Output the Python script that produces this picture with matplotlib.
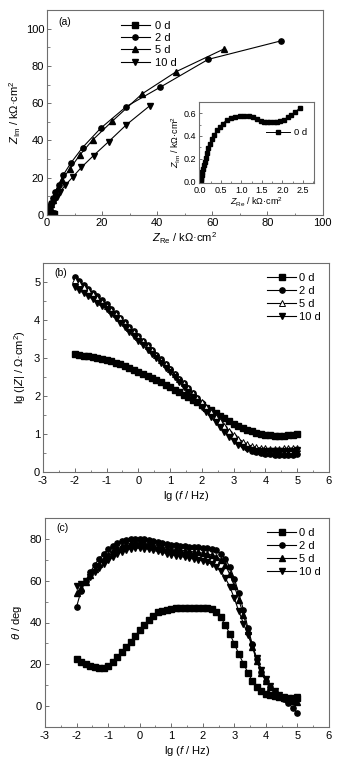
import matplotlib
matplotlib.use("Agg")
import matplotlib.pyplot as plt
from matplotlib.ticker import MultipleLocator, FormatStrFormatter

plt.rcParams['font.family'] = ['Liberation Sans', 'DejaVu Sans']
plt.rcParams['mathtext.fontset'] = 'custom'
plt.rcParams['mathtext.rm'] = 'Liberation Sans'
plt.rcParams['mathtext.it'] = 'Liberation Sans:italic'
plt.rcParams['mathtext.bf'] = 'Liberation Sans:bold'
plt.rcParams['axes.unicode_minus'] = False

labels = ['0 d', '2 d', '5 d', '10 d']

# ---------------- (a) Nyquist data (kOhm cm2) ----------------
zre_0d = [0.01, 0.02, 0.03, 0.04, 0.05, 0.07, 0.09, 0.11, 0.14, 0.17, 0.20, 0.24, 0.29, 0.34,
          0.40, 0.47, 0.55, 0.64, 0.74, 0.85, 0.96, 1.07, 1.18, 1.29, 1.39, 1.47, 1.55, 1.63,
          1.71, 1.79, 1.87, 1.95, 2.04, 2.13, 2.22, 2.31, 2.43]
zim_0d = [0.00, 0.02, 0.04, 0.06, 0.08, 0.11, 0.14, 0.17, 0.21, 0.25, 0.29, 0.33, 0.37, 0.41,
          0.45, 0.48, 0.51, 0.54, 0.56, 0.57, 0.58, 0.58, 0.575, 0.565, 0.55, 0.535, 0.52, 0.52,
          0.52, 0.52, 0.525, 0.53, 0.545, 0.565, 0.585, 0.61, 0.65]

zre_2d = [0.01, 0.015, 0.02, 0.025, 0.035, 0.05, 0.07, 0.10, 0.14, 0.19, 0.27, 0.38, 0.53, 0.75,
          1.05, 1.5, 2.1, 3.0, 4.2, 5.9, 8.7, 12.9, 19.5, 28.8, 41.0, 58.5, 85.1]
zim_2d = [0.03, 0.05, 0.07, 0.11, 0.16, 0.23, 0.33, 0.46, 0.64, 0.90, 1.25, 1.75, 2.45, 3.4,
          4.7, 6.5, 9.0, 12.4, 16.1, 21.5, 28.0, 36.2, 46.6, 58.2, 68.5, 83.5, 93.5]

zre_5d = [0.008, 0.012, 0.018, 0.025, 0.035, 0.05, 0.07, 0.10, 0.14, 0.19, 0.27, 0.37, 0.52,
          0.72, 1.0, 1.4, 2.0, 2.8, 3.9, 5.4, 8.2, 11.8, 16.6, 23.6, 34.5, 47.0, 64.1]
zim_5d = [0.03, 0.05, 0.08, 0.12, 0.17, 0.24, 0.34, 0.47, 0.65, 0.89, 1.22, 1.68, 2.3,
          3.15, 4.3, 5.8, 7.9, 10.6, 14.3, 18.8, 24.5, 32.0, 40.3, 50.2, 65.0, 77.0, 89.0]

zre_10d = [0.012, 0.018, 0.025, 0.035, 0.05, 0.07, 0.10, 0.14, 0.19, 0.26, 0.36, 0.50, 0.68,
           0.95, 1.3, 1.8, 2.5, 3.5, 4.8, 6.7, 9.3, 12.5, 16.9, 22.4, 28.8, 37.3]
zim_10d = [0.04, 0.07, 0.10, 0.15, 0.21, 0.29, 0.40, 0.55, 0.75, 1.02, 1.38, 1.85, 2.5,
           3.3, 4.4, 5.8, 7.6, 9.8, 12.6, 16.1, 20.3, 25.6, 31.9, 39.4, 48.4, 58.6]

# ---------------- (b), (c) Bode data ----------------
lg_f = [-2.00, -1.86, -1.71, -1.57, -1.43, -1.29, -1.14, -1.00, -0.86, -0.71, -0.57, -0.43,
        -0.29, -0.14, 0.00, 0.14, 0.29, 0.43, 0.57, 0.71, 0.86, 1.00, 1.14, 1.29, 1.43, 1.57,
        1.71, 1.86, 2.00, 2.14, 2.29, 2.43, 2.57, 2.71, 2.86, 3.00, 3.14, 3.29, 3.43, 3.57,
        3.71, 3.86, 4.00, 4.14, 4.29, 4.43, 4.57, 4.71, 4.86, 5.00]

lgz_0d = [3.10, 3.08, 3.06, 3.04, 3.02, 3.00, 2.97, 2.94, 2.91, 2.87, 2.83, 2.78, 2.73, 2.68,
          2.63, 2.58, 2.53, 2.48, 2.42, 2.36, 2.30, 2.24, 2.17, 2.10, 2.03, 1.97, 1.90, 1.83,
          1.76, 1.69, 1.62, 1.55, 1.48, 1.41, 1.34, 1.27, 1.21, 1.16, 1.11, 1.07, 1.03, 1.00,
          0.98, 0.97, 0.96, 0.96, 0.96, 0.97, 0.98, 1.00]
lgz_2d = [5.12, 5.02, 4.92, 4.82, 4.72, 4.62, 4.52, 4.42, 4.30, 4.18, 4.06, 3.94, 3.82, 3.70,
          3.58, 3.46, 3.33, 3.21, 3.09, 2.97, 2.84, 2.72, 2.59, 2.46, 2.33, 2.20, 2.07, 1.95,
          1.82, 1.69, 1.56, 1.43, 1.30, 1.17, 1.03, 0.91, 0.80, 0.70, 0.62, 0.56, 0.52, 0.50,
          0.48, 0.47, 0.46, 0.46, 0.46, 0.46, 0.46, 0.47]
lgz_5d = [5.06, 4.97, 4.88, 4.78, 4.68, 4.58, 4.48, 4.38, 4.27, 4.15, 4.04, 3.92, 3.80, 3.68,
          3.56, 3.44, 3.32, 3.20, 3.08, 2.96, 2.83, 2.71, 2.58, 2.46, 2.33, 2.20, 2.08, 1.95,
          1.83, 1.70, 1.58, 1.45, 1.33, 1.21, 1.09, 0.98, 0.88, 0.80, 0.73, 0.68, 0.65, 0.63,
          0.62, 0.61, 0.61, 0.61, 0.62, 0.62, 0.63, 0.64]
lgz_10d = [4.86, 4.78, 4.70, 4.62, 4.54, 4.46, 4.38, 4.29, 4.17, 4.05, 3.93, 3.81, 3.69, 3.58,
           3.46, 3.34, 3.22, 3.10, 2.99, 2.87, 2.75, 2.63, 2.50, 2.37, 2.24, 2.11, 1.98, 1.85,
           1.72, 1.59, 1.45, 1.32, 1.19, 1.06, 0.93, 0.82, 0.72, 0.65, 0.60, 0.57, 0.55, 0.54,
           0.54, 0.54, 0.54, 0.54, 0.55, 0.55, 0.56, 0.57]

ph_0d = [22.5, 21.0, 20.0, 19.2, 18.6, 18.2, 18.4, 19.3, 21.0, 23.3, 25.8, 28.3, 30.9, 33.6,
         36.3, 38.9, 41.3, 43.3, 44.8, 45.7, 46.2, 46.5, 46.7, 46.8, 46.9, 46.9, 47.0, 47.0,
         47.0, 47.0, 46.5, 45.2, 42.6, 38.8, 34.5, 29.8, 25.0, 20.3, 16.0, 12.0, 9.2, 7.2,
         6.0, 5.3, 4.8, 4.4, 4.0, 3.4, 3.0, 4.0]
ph_2d = [47.5, 55.0, 60.0, 64.0, 67.5, 70.5, 73.0, 75.0, 76.5, 77.8, 78.8, 79.5, 79.9, 80.0,
         80.0, 79.8, 79.6, 79.2, 78.7, 78.2, 77.7, 77.3, 77.0, 76.7, 76.5, 76.3, 76.1, 75.9,
         75.7, 75.5, 75.2, 74.5, 73.0, 70.5, 66.5, 61.0, 54.0, 46.0, 37.5, 29.5, 22.5, 16.5,
         12.0, 9.0, 7.0, 5.0, 3.5, 1.5, -1.0, -3.2]
ph_5d = [54.0, 56.5, 59.5, 62.5, 65.5, 68.0, 70.5, 72.5, 74.2, 75.5, 76.6, 77.4, 78.0, 78.3,
         78.4, 78.2, 77.8, 77.3, 76.8, 76.3, 75.8, 75.4, 75.0, 74.7, 74.4, 74.1, 73.8, 73.5,
         73.2, 72.8, 72.3, 71.5, 70.0, 67.5, 63.0, 57.5, 51.0, 43.5, 36.0, 28.5, 21.5, 16.0,
         12.0, 9.0, 7.0, 5.5, 4.5, 3.5, 2.5, 2.0]
ph_10d = [57.7, 58.5, 60.0, 62.0, 64.0, 66.0, 68.0, 70.0, 71.5, 72.8, 73.8, 74.6, 75.2, 75.5,
          75.6, 75.4, 75.0, 74.5, 74.0, 73.5, 73.0, 72.5, 72.0, 71.6, 71.2, 70.8, 70.4, 70.0,
          69.5, 68.8, 67.8, 66.5, 64.5, 61.5, 57.0, 51.5, 45.5, 39.5, 34.0, 28.5, 23.0, 17.5,
          13.0, 9.5, 7.0, 5.5, 4.5, 4.0, 4.0, 4.5]

W, H = 342, 769
fig = plt.figure(figsize=(W / 100, H / 100), dpi=100)

def ax_at(l, t, r, b):
    return fig.add_axes([l / W, 1 - b / H, (r - l) / W, (b - t) / H])

SPINE = '#6e6e6e'
FS = 8

def style(ax, fs=FS):
    for s in ax.spines.values():
        s.set_color(SPINE)
        s.set_linewidth(0.8)
    ax.tick_params(which='both', direction='in', top=False, right=False,
                   color=SPINE, labelsize=fs, pad=2)
    ax.tick_params(which='major', length=3, width=0.7)
    ax.tick_params(which='minor', length=1.8, width=0.6)

lw = 0.8
ms = 3.8

# ---------------- (a) ----------------
axa = ax_at(47, 10, 322.5, 215)
style(axa)
axa.plot(zre_0d, zim_0d, '-s', color='black', lw=lw, ms=ms, label=labels[0])
axa.plot(zre_2d, zim_2d, '-o', color='black', lw=lw, ms=ms, label=labels[1])
axa.plot(zre_5d, zim_5d, '-^', color='black', lw=lw, ms=ms, label=labels[2])
axa.plot(zre_10d, zim_10d, '-v', color='black', lw=lw, ms=ms, label=labels[3])
axa.set_xlim(0, 100)
axa.set_ylim(0, 110)
axa.xaxis.set_major_locator(MultipleLocator(20))
axa.xaxis.set_minor_locator(MultipleLocator(10))
axa.yaxis.set_major_locator(MultipleLocator(20))
axa.yaxis.set_minor_locator(MultipleLocator(10))
axa.set_xlabel(r'$Z_{\rm Re}$ / kΩ·cm$^2$', fontsize=FS, labelpad=2)
axa.set_ylabel(r'$Z_{\rm Im}$ / kΩ·cm$^2$', fontsize=FS, labelpad=2)
axa.text(0.04, 0.965, '(a)', transform=axa.transAxes, fontsize=7.5, va='top')
axa.legend(loc='upper left', bbox_to_anchor=(0.24, 0.985), frameon=False, fontsize=FS,
           handlelength=2.6, handletextpad=0.5, labelspacing=0.2, borderpad=0.2)

# inset
axi = ax_at(199, 102, 314, 183)
style(axi, fs=6.5)
axi.plot(zre_0d, zim_0d, '-s', color='black', lw=0.7, ms=2.3, label=labels[0])
axi.set_xlim(-0.03, 2.77)
axi.set_ylim(-0.015, 0.70)
axi.xaxis.set_major_locator(MultipleLocator(0.5))
axi.xaxis.set_minor_locator(MultipleLocator(0.25))
axi.yaxis.set_major_locator(MultipleLocator(0.2))
axi.yaxis.set_minor_locator(MultipleLocator(0.1))
axi.xaxis.set_major_formatter(FormatStrFormatter('%.1f'))
axi.yaxis.set_major_formatter(FormatStrFormatter('%.1f'))
axi.tick_params(which='major', length=2.2)
axi.tick_params(which='minor', length=1.3)
axi.set_xlabel(r'$Z_{\rm Re}$ / kΩ·cm$^2$', fontsize=6.5, labelpad=0.5)
axi.set_ylabel(r'$Z_{\rm Im}$ / kΩ·cm$^2$', fontsize=6.5, labelpad=0.5)
axi.legend(loc='center right', bbox_to_anchor=(1.0, 0.62), frameon=False, fontsize=6.8,
           handlelength=2.6, handletextpad=0.4, borderpad=0.2)

# ---------------- (b) ----------------
axb = ax_at(43, 263, 329, 472)
style(axb)
axb.plot(lg_f, lgz_0d, '-s', color='black', lw=lw, ms=ms, label=labels[0])
axb.plot(lg_f, lgz_2d, '-o', color='black', lw=lw, ms=ms, label=labels[1])
axb.plot(lg_f, lgz_5d, '-^', color='black', mfc='white', mec='black', mew=0.7, lw=lw, ms=ms + 0.4, label=labels[2])
axb.plot(lg_f, lgz_10d, '-v', color='black', lw=lw, ms=ms, label=labels[3])
axb.set_xlim(-3, 6)
axb.set_ylim(0, 5.5)
axb.xaxis.set_major_locator(MultipleLocator(1))
axb.xaxis.set_minor_locator(MultipleLocator(0.5))
axb.yaxis.set_major_locator(MultipleLocator(1))
axb.yaxis.set_minor_locator(MultipleLocator(0.5))
axb.tick_params(axis='x', pad=3)
axb.set_xlabel(r'lg ($f$ / Hz)', fontsize=FS, labelpad=2)
axb.set_ylabel(r'lg (|$Z$| / Ω·cm$^2$)', fontsize=FS, labelpad=4)
axb.text(0.04, 0.975, '(b)', transform=axb.transAxes, fontsize=7.5, va='top')
axb.legend(loc='upper right', bbox_to_anchor=(1.0, 0.99), frameon=False, fontsize=FS,
           handlelength=2.6, handletextpad=0.3, labelspacing=0.28, borderpad=0.2)

# ---------------- (c) ----------------
axc = ax_at(45, 518, 329, 727)
style(axc)
axc.plot(lg_f, ph_0d, '-s', color='black', lw=lw, ms=ms, label=labels[0])
axc.plot(lg_f, ph_2d, '-o', color='black', lw=lw, ms=ms, label=labels[1])
axc.plot(lg_f, ph_5d, '-^', color='black', lw=lw, ms=ms, label=labels[2])
axc.plot(lg_f, ph_10d, '-v', color='black', lw=lw, ms=ms, label=labels[3])
axc.set_xlim(-3, 6)
axc.set_ylim(-10, 90)
axc.xaxis.set_major_locator(MultipleLocator(1))
axc.xaxis.set_minor_locator(MultipleLocator(0.5))
axc.yaxis.set_major_locator(MultipleLocator(20))
axc.yaxis.set_minor_locator(MultipleLocator(10))
axc.tick_params(axis='x', pad=3)
axc.set_xlabel(r'lg ($f$ / Hz)', fontsize=FS, labelpad=2)
axc.set_ylabel(r'$\theta$ / deg', fontsize=FS, labelpad=4)
axc.text(0.04, 0.975, '(c)', transform=axc.transAxes, fontsize=7.5, va='top')
axc.legend(loc='upper right', bbox_to_anchor=(1.0, 0.99), frameon=False, fontsize=FS,
           handlelength=2.6, handletextpad=0.3, labelspacing=0.28, borderpad=0.2)

fig.savefig('out.png', dpi=100)
